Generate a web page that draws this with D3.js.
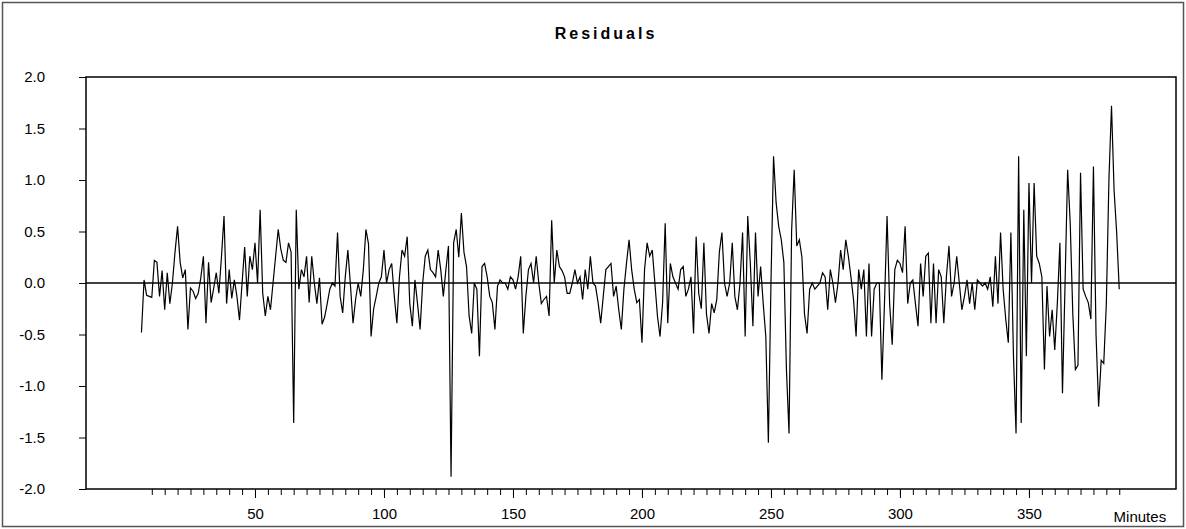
<!DOCTYPE html>
<html>
<head>
<meta charset="utf-8">
<script src="https://cdn.jsdelivr.net/npm/d3@7"></script>
<style>
  body { margin: 0; background: #fff; }
  svg text { font-family: "Liberation Sans", Arial, sans-serif; }
</style>
</head>
<body>
<div id="chart"></div>
<script>
// chart data (one value per minute)
var firstMinute = 6;
var residuals = [
  -0.48, 0.03, -0.12, -0.13, -0.14, 0.22, 0.2, -0.13, 0.12, -0.26,
  0.1, -0.2, 0.0, 0.3, 0.55, 0.2, 0.05, 0.13, -0.45, -0.05,
  -0.08, -0.15, -0.1, 0.05, 0.26, -0.39, 0.2, -0.19, -0.05, 0.1,
  -0.1, 0.25, 0.65, -0.2, 0.13, -0.15, 0.03, -0.13, -0.36, 0.0,
  0.35, -0.13, 0.26, 0.13, 0.39, 0.0, 0.71, -0.1, -0.32, -0.13,
  -0.26, 0.0, 0.26, 0.52, 0.33, 0.22, 0.2, 0.39, 0.3, -1.36,
  0.71, -0.06, 0.13, 0.06, 0.26, -0.19, 0.26, 0.0, -0.2, 0.05,
  -0.4, -0.33, -0.2, -0.06, 0.0, -0.03, 0.49, -0.13, -0.29, 0.06,
  0.32, -0.02, -0.39, -0.16, 0.0, -0.13, 0.13, 0.52, 0.38, -0.52,
  -0.25, -0.13, 0.0, 0.06, 0.32, 0.0, 0.13, 0.19, -0.13, -0.39,
  0.06, 0.32, 0.26, 0.45, -0.2, -0.42, 0.03, -0.2, -0.45, 0.0,
  0.26, 0.32, 0.13, 0.1, 0.06, 0.32, 0.13, -0.13, 0.13, 0.36,
  -1.88, 0.39, 0.52, 0.25, 0.68, 0.3, 0.16, -0.32, -0.49, 0.0,
  -0.06, -0.71, 0.16, 0.19, 0.06, -0.13, -0.19, -0.45, -0.03, 0.03,
  0.0, 0.0, -0.06, 0.06, 0.03, -0.06, 0.06, 0.26, -0.49, -0.13,
  0.13, 0.19, 0.0, 0.26, 0.0, -0.2, -0.16, -0.13, -0.32, 0.61,
  0.0, 0.32, 0.16, 0.12, 0.06, -0.1, -0.1, 0.0, 0.13, 0.0,
  0.06, -0.16, 0.13, -0.06, 0.26, 0.0, -0.03, -0.19, -0.39, -0.13,
  0.13, 0.16, 0.19, -0.13, -0.03, -0.26, -0.45, -0.06, 0.19, 0.42,
  0.13, -0.06, -0.19, -0.16, -0.58, 0.13, 0.39, 0.26, 0.32, 0.0,
  -0.32, -0.52, -0.19, 0.58, -0.39, 0.19, 0.06, 0.0, -0.06, 0.13,
  0.16, -0.13, -0.06, 0.06, -0.49, 0.45, -0.1, -0.25, 0.39, -0.3,
  -0.49, -0.2, -0.29, -0.16, 0.3, 0.49, 0.0, -0.13, 0.0, 0.39,
  -0.13, -0.26, 0.0, 0.49, -0.52, 0.65, 0.19, -0.42, 0.49, -0.13,
  0.16, -0.2, -0.52, -1.55, 0.0, 1.23, 0.78, 0.55, 0.42, 0.2,
  -0.84, -1.46, 0.5, 1.1, 0.36, 0.42, 0.25, -0.3, -0.49, -0.06,
  0.0, -0.06, -0.03, 0.0, 0.1, 0.06, -0.26, 0.13, 0.0, -0.19,
  0.0, 0.32, 0.13, 0.42, 0.26, 0.06, -0.16, -0.52, 0.13, -0.06,
  0.13, -0.52, 0.19, -0.52, -0.06, 0.0, 0.0, -0.94, -0.2, 0.65,
  -0.2, -0.6, 0.13, 0.22, 0.19, 0.1, 0.55, -0.2, 0.0, 0.03,
  -0.2, -0.42, 0.19, -0.13, 0.26, 0.29, -0.39, 0.19, -0.39, 0.13,
  0.06, -0.39, 0.06, 0.36, -0.13, 0.0, 0.26, 0.0, -0.26, -0.13,
  0.03, -0.2, 0.0, -0.26, 0.03, 0.0, -0.03, 0.0, -0.06, 0.06,
  -0.23, 0.26, -0.2, 0.49, -0.06, -0.35, -0.58, 0.49, -0.71, -1.46,
  1.23, -1.36, 0.71, -0.71, 0.97, 0.0, 0.97, 0.26, 0.19, 0.06,
  -0.84, -0.03, -0.52, -0.26, -0.65, -0.2, 0.39, -1.07, 0.0, 1.1,
  0.58, -0.3, -0.84, -0.8, 1.07, -0.06, -0.13, -0.19, -0.35, 1.13,
  -0.5, -1.2, -0.75, -0.78, -0.2, 1.0, 1.72, 0.9, 0.49, -0.06
];
var minutes = residuals.map(function (d, i) { return firstMinute + i; });

var yTicks = [2.0, 1.5, 1.0, 0.5, 0.0, -0.5, -1.0, -1.5, -2.0];
var xLabels = [50, 100, 150, 200, 250, 300, 350];
var xMinorTicks = d3.range(10, 390, 5);
var title = 'Residuals';
var xTitle = 'Minutes';

// size
var w = 1186;
var h = 529;
var plot = { left: 86, right: 1176, top: 77, bottom: 489 };

var svg = d3.select('#chart')
    .append('svg')
    .attr('width', w)
    .attr('height', h);

// outer frame
svg.append('rect')
    .attr('x', 2.5).attr('y', 2.5)
    .attr('width', w - 5).attr('height', h - 5)
    .attr('fill', '#fff')
    .attr('stroke', '#555')
    .attr('stroke-width', 1.5);

// scales
var x = d3.scaleLinear()
    .domain([-15.5, 407])
    .range([plot.left, plot.right]);

var y = d3.scaleLinear()
    .domain([-2, 2])
    .range([plot.bottom, plot.top]);

var fmt = d3.formatLocale({ decimal: '.', thousands: ',', grouping: [3], currency: ['', ''], minus: '-' }).format('.1f');

// title
svg.append('text')
    .attr('x', 606)
    .attr('y', 39)
    .attr('text-anchor', 'middle')
    .style('font-size', '16px')
    .style('font-weight', 'bold')
    .style('letter-spacing', '3px')
    .text(title);

// y axis
var yAxis = d3.axisLeft(y)
    .tickValues(yTicks)
    .tickFormat(fmt)
    .tickSize(7)
    .tickPadding(34);

var gy = svg.append('g')
    .attr('transform', 'translate(' + plot.left + ',0)')
    .call(yAxis);
gy.select('.domain').remove();
gy.selectAll('text').style('font-size', '15px').attr('fill', '#000');
gy.selectAll('line').attr('stroke', '#000');

// x axis: minor ticks every 5 minutes, labelled every 50
var xAxisMinor = d3.axisBottom(x)
    .tickValues(xMinorTicks)
    .tickFormat('')
    .tickSize(6);

var gxm = svg.append('g')
    .attr('transform', 'translate(0,' + plot.bottom + ')')
    .call(xAxisMinor);
gxm.select('.domain').remove();
gxm.selectAll('line').attr('stroke', '#000');

var xAxis = d3.axisBottom(x)
    .tickValues(xLabels)
    .tickFormat(d3.format('d'))
    .tickSize(9)
    .tickPadding(10);

var gx = svg.append('g')
    .attr('transform', 'translate(0,' + plot.bottom + ')')
    .call(xAxis);
gx.select('.domain').remove();
gx.selectAll('text').style('font-size', '15px').attr('fill', '#000');
gx.selectAll('line').attr('stroke', '#000');

svg.append('text')
    .attr('x', x(393))
    .attr('y', plot.bottom + 33)
    .attr('text-anchor', 'middle')
    .style('font-size', '15px')
    .text(xTitle);

// plot box
svg.append('rect')
    .attr('x', plot.left)
    .attr('y', plot.top)
    .attr('width', plot.right - plot.left)
    .attr('height', plot.bottom - plot.top)
    .attr('fill', 'none')
    .attr('stroke', '#000')
    .attr('stroke-width', 1.5);

// zero line
svg.append('line')
    .attr('x1', plot.left).attr('x2', plot.right)
    .attr('y1', y(0)).attr('y2', y(0))
    .attr('stroke', '#000')
    .attr('stroke-width', 1.5);

// residual series
var line = d3.line()
    .x(function (d, i) { return x(minutes[i]); })
    .y(function (d) { return y(d); });

svg.append('path')
    .datum(residuals)
    .attr('d', line)
    .attr('fill', 'none')
    .attr('stroke', '#000')
    .attr('stroke-width', 1.2);
</script>
</body>
</html>
